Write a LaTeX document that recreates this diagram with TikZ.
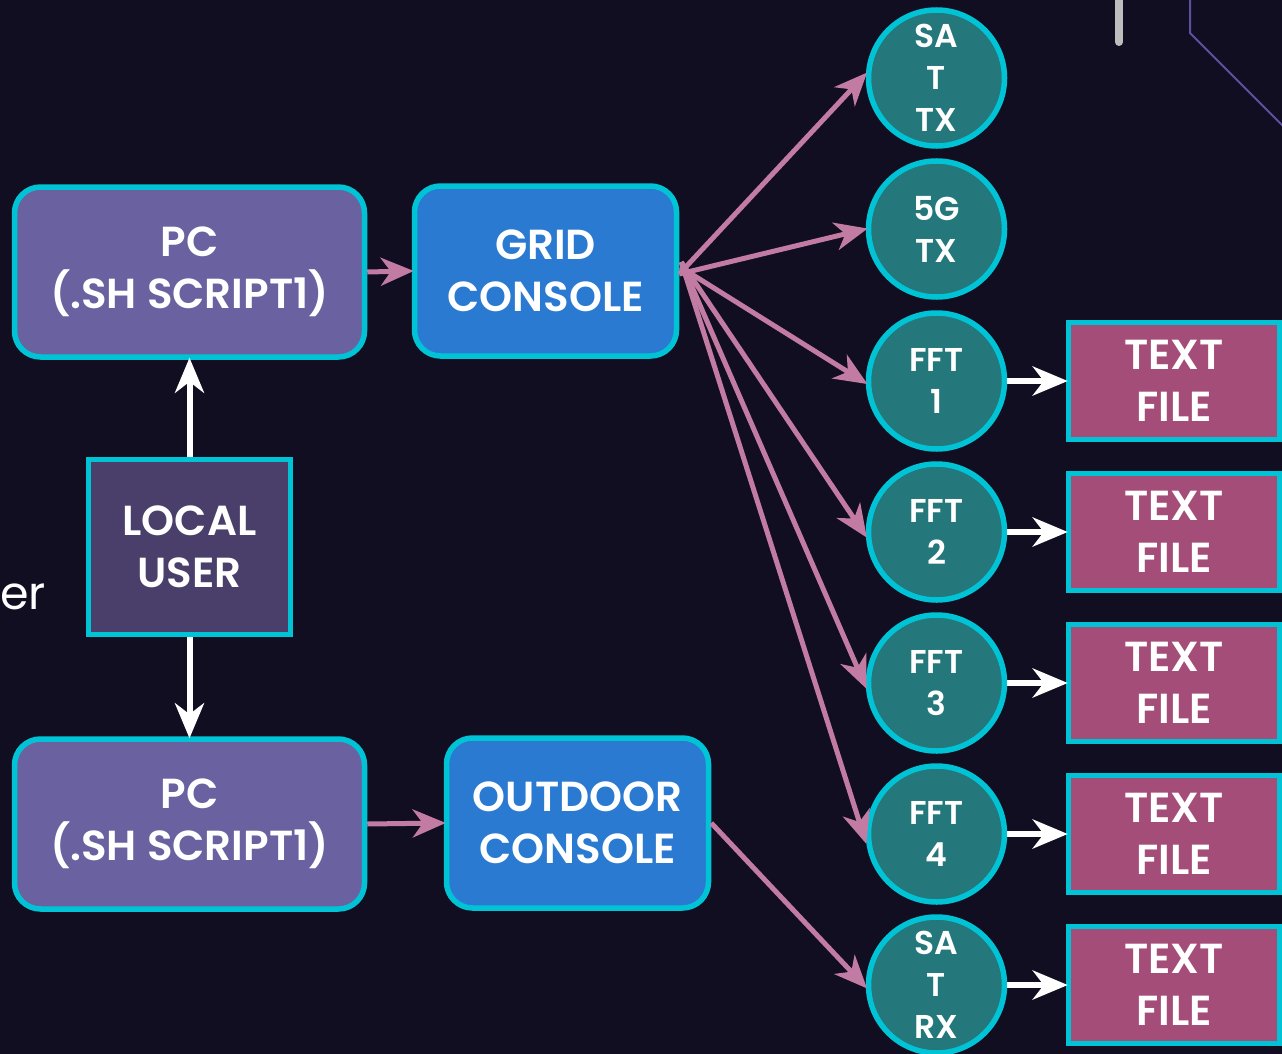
\documentclass[tikz,border=0pt]{standalone}
\usepackage{fontspec}
\setmainfont{Poppins}[BoldFont={Poppins SemiBold}]
\usetikzlibrary{arrows.meta}
\definecolor{bgc}{HTML}{110E22}
\definecolor{pcc}{HTML}{6A62A0}
\definecolor{blc}{HTML}{2A7AD2}
\definecolor{luc}{HTML}{4A3F6A}
\definecolor{tlc}{HTML}{24777A}
\definecolor{tfc}{HTML}{A44D78}
\definecolor{cyc}{HTML}{00C4D6}
\definecolor{pkc}{HTML}{C27BA3}
\definecolor{gyc}{HTML}{BDBDBD}
\definecolor{vlc}{HTML}{5B51A3}
\tikzset{
  base/.style={draw=cyc, line width=5.5pt, text=white, align=center,
    font=\bfseries\fontsize{42}{52}\selectfont, inner sep=0pt},
  pcbox/.style={base, fill=pcc, rounded corners=26pt, minimum width=350pt, minimum height=170pt},
  consolebox/.style={base, fill=blc, rounded corners=26pt, minimum width=262pt, minimum height=170pt},
  userbox/.style={base, fill=luc, minimum width=202pt, minimum height=175pt},
  circ/.style={base, circle, fill=tlc, minimum size=136pt,
    font=\bfseries\fontsize{33}{42}\selectfont},
  filebox/.style={base, fill=tfc, minimum width=211pt, minimum height=117pt},
  pinkarrow/.style={draw=pkc, line width=5pt, -{Stealth[length=33pt,width=28pt,inset=10pt]}, shorten >=-2pt},
  whitearrow/.style={draw=white, line width=6pt, -{Stealth[length=35pt,width=29pt,inset=11pt]}, shorten >=-2pt},
}
\begin{document}
\begin{tikzpicture}[x=1pt,y=-1pt]
\fill[bgc] (0,0) rectangle (1282,1054);
\useasboundingbox (0,0) rectangle (1282,1054);
% decorations
\draw[gyc, line width=8pt, line cap=round] (1119,-10) -- (1119,42);
\draw[vlc, line width=2pt] (1190,-5) -- (1190,33) -- (1290,133);
\node[text=white, anchor=west, font=\fontsize{46}{54}\selectfont, inner sep=0pt] (er) at (0,597) {er};
% nodes
\node[pcbox] (pc1) at (189.5,272) {PC\\(.SH SCRIPT1)};
\node[consolebox] (grid) at (545.5,271) {GRID\\CONSOLE};
\node[userbox] (user) at (189.5,547) {LOCAL\\USER};
\node[pcbox] (pc2) at (189.5,824) {PC\\(.SH SCRIPT1)};
\node[consolebox] (out) at (577.5,823) {OUTDOOR\\CONSOLE};
\node[circ] (satx) at (936.5,78) {SA\\T\\TX};
\node[circ] (g5) at (936.5,229) {5G\\TX};
\node[circ] (f1) at (936.5,381) {FFT\\1};
\node[circ] (f2) at (936.5,532) {FFT\\2};
\node[circ] (f3) at (936.5,683) {FFT\\3};
\node[circ] (f4) at (936.5,834) {FFT\\4};
\node[circ] (sarx) at (936.5,985) {SA\\T\\RX};
\node[filebox] (t1) at (1174,381) {TEXT\\FILE};
\node[filebox] (t2) at (1174,532) {TEXT\\FILE};
\node[filebox] (t3) at (1174,683) {TEXT\\FILE};
\node[filebox] (t4) at (1174,834) {TEXT\\FILE};
\node[filebox] (t5) at (1174,985) {TEXT\\FILE};
% connectors
\draw[pinkarrow] (pc1.east) -- (grid.west);
\draw[pinkarrow] (pc2.east) -- (out.west);
\draw[whitearrow] (user.north) -- (pc1.south);
\draw[whitearrow] (user.south) -- (pc2.north);
\draw[pinkarrow] ([yshift=-3pt]grid.east) -- ([yshift=4pt]satx.west);
\draw[pinkarrow] ([yshift=-3pt]grid.east) -- (g5.west);
\draw[pinkarrow] ([xshift=1pt,yshift=4pt]grid.east) -- ([yshift=-2pt]f1.west);
\draw[pinkarrow] ([xshift=2pt,yshift=9pt]grid.east) -- ([yshift=-4pt]f2.west);
\draw[pinkarrow] ([xshift=2pt,yshift=9pt]grid.east) -- ([yshift=-4pt]f3.west);
\draw[pinkarrow] ([xshift=2pt,yshift=9pt]grid.east) -- ([yshift=-8pt]f4.west);
\draw[pinkarrow] (out.east) -- ([yshift=-2pt]sarx.west);
\draw[whitearrow] (f1) -- (t1);
\draw[whitearrow] (f2) -- (t2);
\draw[whitearrow] (f3) -- (t3);
\draw[whitearrow] (f4) -- (t4);
\draw[whitearrow] (sarx) -- (t5);
\end{tikzpicture}
\end{document}
